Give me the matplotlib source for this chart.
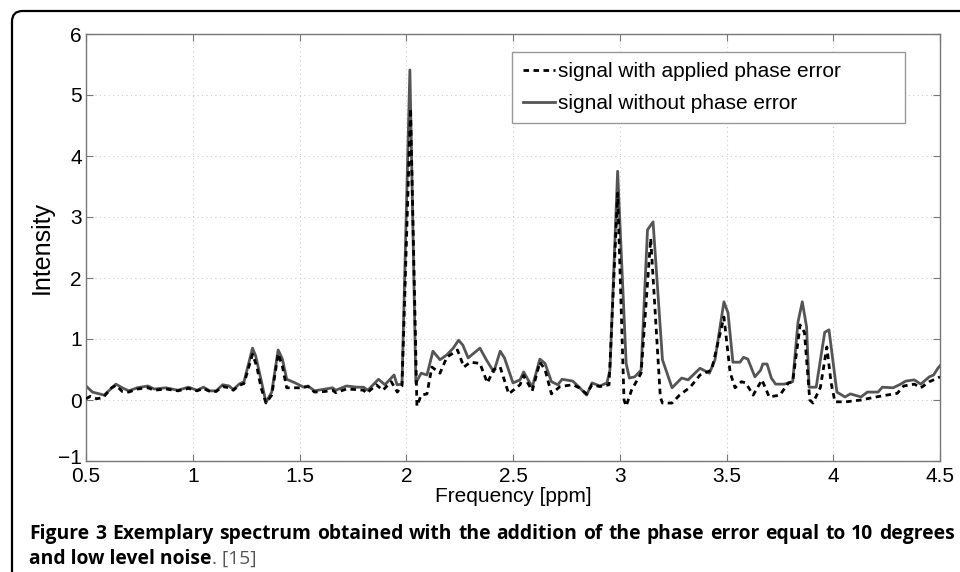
import matplotlib
matplotlib.use("Agg")
import matplotlib.pyplot as plt
import matplotlib.transforms as mtransforms
from matplotlib.patches import FancyBboxPatch

# values
ppm_solid = [0.50, 0.53, 0.585, 0.64, 0.67, 0.70, 0.74, 0.79, 0.82, 0.875, 0.93, 0.98,
             1.02, 1.05, 1.08, 1.11, 1.14, 1.17, 1.19, 1.217, 1.24, 1.28, 1.295, 1.32,
             1.343, 1.37, 1.40, 1.42, 1.44, 1.48, 1.52, 1.54, 1.57, 1.62, 1.655, 1.67,
             1.72, 1.77, 1.80, 1.82, 1.87, 1.90, 1.943, 1.957, 1.98, 2.017, 2.045, 2.07,
             2.097, 2.125, 2.158, 2.19, 2.22, 2.245, 2.265, 2.29, 2.345, 2.375, 2.41,
             2.44, 2.46, 2.50, 2.533, 2.55, 2.59, 2.626, 2.65, 2.68, 2.71, 2.73, 2.78,
             2.81, 2.845, 2.87, 2.907, 2.94, 2.954, 2.99, 3.03, 3.045, 3.07, 3.10, 3.13,
             3.156, 3.20, 3.245, 3.29, 3.32, 3.376, 3.42, 3.446, 3.488, 3.507, 3.53,
             3.563, 3.58, 3.60, 3.633, 3.66, 3.67, 3.69, 3.71, 3.73, 3.77, 3.79, 3.81,
             3.835, 3.855, 3.875, 3.887, 3.92, 3.96, 3.98, 4.017, 4.055, 4.08, 4.13,
             4.16, 4.21, 4.23, 4.28, 4.31, 4.34, 4.38, 4.41, 4.45, 4.47, 4.49, 4.50]
int_solid = [0.23, 0.13, 0.08, 0.26, 0.20, 0.15, 0.20, 0.23, 0.18, 0.20, 0.16, 0.21,
             0.16, 0.21, 0.15, 0.15, 0.25, 0.23, 0.17, 0.26, 0.30, 0.85, 0.72, 0.33,
             -0.04, 0.13, 0.82, 0.67, 0.34, 0.28, 0.21, 0.23, 0.15, 0.18, 0.20, 0.16,
             0.23, 0.21, 0.21, 0.16, 0.34, 0.25, 0.41, 0.25, 0.26, 5.41, 0.28, 0.44,
             0.41, 0.80, 0.66, 0.74, 0.85, 0.98, 0.90, 0.69, 0.85, 0.66, 0.46,
             0.80, 0.69, 0.28, 0.33, 0.46, 0.21, 0.67, 0.60, 0.30, 0.25, 0.34, 0.31,
             0.21, 0.08, 0.28, 0.23, 0.28, 0.49, 3.75, 0.60, 0.36, 0.38, 0.49, 2.79,
             2.92, 0.66, 0.20, 0.36, 0.33, 0.52, 0.44, 0.66, 1.61, 1.43, 0.62,
             0.62, 0.70, 0.67, 0.38, 0.49, 0.59, 0.59, 0.36, 0.26, 0.26, 0.28, 0.30,
             1.28, 1.61, 1.20, 0.21, 0.21, 1.11, 1.15, 0.13, 0.05, 0.10, 0.05,
             0.13, 0.13, 0.21, 0.20, 0.25, 0.31, 0.33, 0.26, 0.38, 0.41, 0.52, 0.56]

ppm_dashed = [0.50, 0.52, 0.55, 0.58, 0.62, 0.64, 0.67, 0.70, 0.74, 0.79, 0.82, 0.875,
              0.93, 0.98, 1.02, 1.05, 1.08, 1.11, 1.14, 1.17, 1.19, 1.217, 1.24, 1.28,
              1.30, 1.32, 1.343, 1.37, 1.40, 1.42, 1.44, 1.46, 1.50, 1.54, 1.57, 1.62,
              1.655, 1.67, 1.72, 1.77, 1.80, 1.815, 1.86, 1.89, 1.93, 1.958, 1.98, 2.02,
              2.05, 2.07, 2.097, 2.12, 2.158, 2.19, 2.24, 2.27, 2.30, 2.345, 2.38, 2.41,
              2.44, 2.48, 2.533, 2.55, 2.59, 2.626, 2.65, 2.68, 2.72, 2.78, 2.81, 2.845,
              2.87, 2.907, 2.95, 2.99, 3.02, 3.03, 3.055, 3.10, 3.145, 3.19, 3.20, 3.245,
              3.28, 3.33, 3.376, 3.43, 3.488, 3.517, 3.54, 3.57, 3.59, 3.625, 3.666,
              3.70, 3.75, 3.79, 3.81, 3.845, 3.865, 3.89, 3.905, 3.94, 3.97, 3.99,
              4.008, 4.06, 4.13, 4.20, 4.25, 4.30, 4.33, 4.38, 4.41, 4.45, 4.49, 4.50]
int_dashed = [0.02, 0.06, 0.02, 0.04, 0.20, 0.24, 0.14, 0.13, 0.18, 0.20, 0.16, 0.18,
              0.15, 0.19, 0.15, 0.19, 0.14, 0.14, 0.22, 0.20, 0.16, 0.24, 0.27, 0.75,
              0.55, 0.20, -0.05, 0.08, 0.76, 0.55, 0.20, 0.20, 0.20, 0.22, 0.13, 0.14,
              0.16, 0.12, 0.18, 0.17, 0.16, 0.11, 0.25, 0.16, 0.30, 0.13, 0.23, 4.78,
              -0.10, 0.08, 0.10, 0.54, 0.44, 0.70, 0.82, 0.54, 0.62, 0.60, 0.28, 0.50,
              0.54, 0.10, 0.25, 0.40, 0.15, 0.62, 0.50, 0.10, 0.22, 0.25, 0.20, 0.10,
              0.25, 0.22, 0.25, 3.39, 0.00, -0.10, 0.16, 0.44, 2.65, 0.05, -0.05, -0.05,
              0.08, 0.21, 0.41, 0.49, 1.36, 0.45, 0.20, 0.30, 0.28, 0.08, 0.33,
              0.05, 0.08, 0.28, 0.30, 1.23, 1.11, 0.00, -0.05, 0.21, 0.87, 0.28,
              -0.03, -0.03, 0.00, 0.05, 0.08, 0.11, 0.23, 0.26, 0.20, 0.30, 0.36, 0.38]

x_ticks = [0.5, 1, 1.5, 2, 2.5, 3, 3.5, 4, 4.5]
x_tick_labels = ["0.5", "1", "1.5", "2", "2.5", "3", "3.5", "4", "4.5"]
y_ticks = [-1, 0, 1, 2, 3, 4, 5, 6]
y_tick_labels = ["\u22121", "0", "1", "2", "3", "4", "5", "6"]

caption_line1 = "Figure 3 Exemplary spectrum obtained with the addition of the phase error equal to 10 degrees"
caption_line2 = "and low level noise"
caption_ref = ". [15]"

plt.rcParams["font.family"] = ["Liberation Sans", "DejaVu Sans"]
cap_font = ["Open Sans", "DejaVu Sans"]

fig = plt.figure(figsize=(9.6, 5.72), dpi=100)
ax = fig.add_axes([86 / 960, 111 / 572, 854 / 960, 427 / 572])

ax.plot(ppm_dashed, int_dashed, color="black", lw=2.0, dashes=(2.0, 1.6),
        label="signal with applied phase error", zorder=3)
ax.plot(ppm_solid, int_solid, color="#555555", lw=2.0,
        label="signal without phase error", zorder=2)

ax.set_xlim(0.5, 4.5)
ax.set_ylim(-1, 6)
ax.set_xticks(x_ticks)
ax.set_xticklabels(x_tick_labels)
ax.set_yticks(y_ticks)
ax.set_yticklabels(y_tick_labels)
ax.tick_params(direction="in", length=5, width=0.8, color="#777777",
               top=True, right=True, labelsize=15)
ax.tick_params(axis="y", pad=3)
ax.tick_params(axis="x", pad=4)
for s in ax.spines.values():
    s.set_color("#777777")
    s.set_linewidth(1.0)
ax.grid(True, color="#cccccc", linestyle=(0, (1, 3)), linewidth=0.8)

# lift the "-1" label a little so it sits clear of "0.5"
lowest = ax.get_yticklabels()[0]
lowest.set_transform(lowest.get_transform() +
                     mtransforms.ScaledTranslation(0, 5 / 100, fig.dpi_scale_trans))

ax.set_xlabel("Frequency [ppm]", fontsize=15, labelpad=1)
ax.set_ylabel("Intensity", fontsize=18, labelpad=3)

leg = ax.legend(loc="upper left", bbox_to_anchor=(0.499, 0.796, 0.460, 0.162),
                mode="expand", borderaxespad=0, fontsize=15, handlelength=1.55,
                handletextpad=0.15, fancybox=False, framealpha=1, borderpad=0.5,
                labelspacing=0.6)
leg.get_frame().set_edgecolor("#999999")
leg.get_frame().set_linewidth(1.0)

# rounded frame round the figure, cut by the right and bottom edges
frame = FancyBboxPatch((12 / 960, -0.1), 1.2, 1.1 - 11 / 572,
                       boxstyle="round,pad=0,rounding_size=0.011",
                       mutation_aspect=960 / 572, transform=fig.transFigure,
                       facecolor="none", edgecolor="black", lw=1.6, clip_on=False)
fig.patches.append(frame)

# caption, first line justified between x=29 and x=955
fig.canvas.draw()
renderer = fig.canvas.get_renderer()
cap_size = 13.9
words = caption_line1.split(" ")
tmp = [fig.text(0, 0, w, family=cap_font, weight="bold", fontsize=cap_size) for w in words]
widths = [t.get_window_extent(renderer).width for t in tmp]
for t in tmp:
    t.remove()
gap = (955 - 29 - sum(widths)) / (len(words) - 1)
xpos = 29
for w, wd in zip(words, widths):
    fig.text(xpos / 960, 1 - 539 / 572, w, family=cap_font, weight="bold",
             fontsize=cap_size, va="baseline")
    xpos += wd + gap

t2 = fig.text(29 / 960, 1 - 564 / 572, caption_line2, family=cap_font, weight="bold",
              fontsize=cap_size, va="baseline")
bb = t2.get_window_extent(renderer)
fig.text(bb.x1 / 960, 1 - 564 / 572, caption_ref, family=cap_font,
         fontsize=cap_size, va="baseline", color="#555555")

fig.savefig("out.png", dpi=100)
